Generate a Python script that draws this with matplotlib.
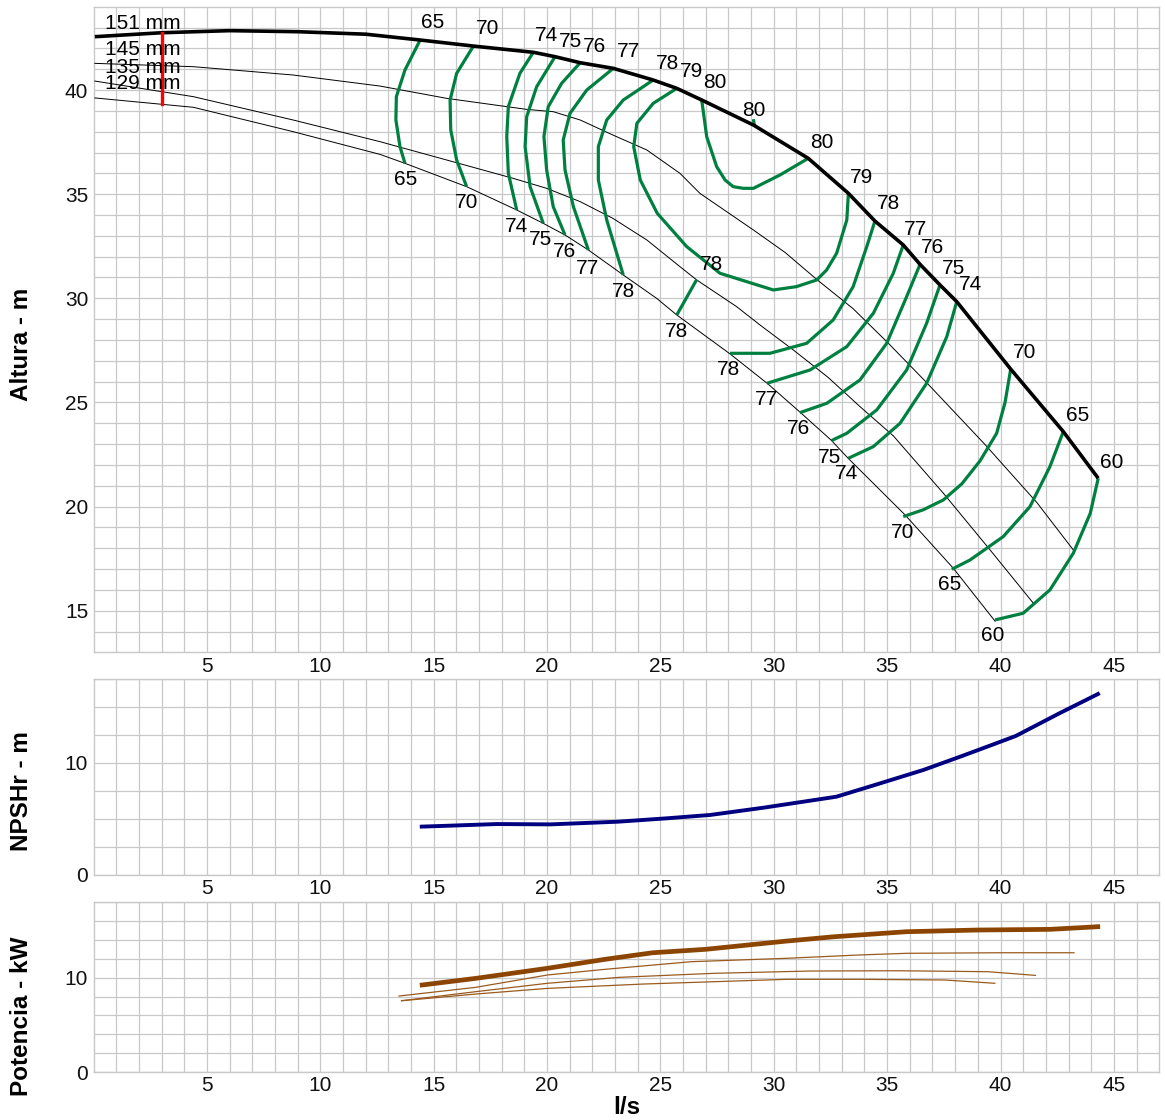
import matplotlib
matplotlib.use("Agg")
import matplotlib.pyplot as plt
import numpy as np

plt.rcParams['font.family'] = ['Liberation Sans', 'DejaVu Sans']

# ---------------- data ----------------
# Head curves (Q l/s, H m)
q151 = [0.05, 3, 6, 9, 12, 14.4, 16.75, 19.4, 20.35, 21.46, 22.92, 24.68, 25.72, 26.82, 29.1, 31.52,
        33.29, 34.46, 35.71, 36.45, 37.33, 38.07, 40.45, 42.77, 44.31]
h151 = [42.56, 42.75, 42.85, 42.8, 42.68, 42.4, 42.11, 41.81, 41.6, 41.31, 41.04, 40.48, 40.08, 39.52, 38.32, 36.72,
        35.04, 33.71, 32.56, 31.63, 30.64, 29.84, 26.6, 23.6, 21.36]
q145 = [0.05, 4.4, 8.8, 12.63, 15.57, 19.1, 20.27, 21.46, 22.9, 24.4, 25.86, 26.74, 29.1, 30.5, 31.9, 33.5,
        35.0, 36.7, 38.0, 39.3, 41.6, 43.21]
h145 = [41.28, 41.12, 40.72, 40.19, 39.6, 39.07, 38.96, 38.56, 37.84, 37.12, 36.0, 35.04, 33.28, 32.2, 30.9, 29.5,
        27.9, 26.0, 24.5, 23.0, 20.2, 17.92]
q135 = [0.05, 4.4, 8.8, 12.63, 15.57, 18.5, 19.98, 21.46, 22.9, 24.4, 25.86, 26.6, 28.36, 29.39, 30.86, 32.4,
        33.8, 35.27, 37.48, 39.54, 41.45]
h135 = [40.43, 39.68, 38.56, 37.52, 36.64, 35.76, 35.28, 34.64, 33.84, 32.8, 31.52, 30.88, 29.6, 28.72, 27.52, 26.2,
        24.8, 23.4, 20.64, 17.92, 15.36]
q129 = [0.05, 4.4, 8.8, 12.63, 13.73, 16.45, 18.66, 19.83, 20.79, 21.82, 23.36, 24.83, 25.72, 28.07, 29.74, 31.15,
        32.52, 33.27, 35.79, 37.91, 39.76]
h129 = [39.62, 39.17, 38.0, 36.91, 36.48, 35.36, 34.24, 33.6, 33.04, 32.32, 31.12, 30.0, 29.2, 27.33, 25.89, 24.54,
        23.2, 22.33, 19.6, 17.05, 14.5]
diam_labels = ["151 mm", "145 mm", "135 mm", "129 mm"]
diam_label_y = [43.17, 41.94, 41.1, 40.29]
q_min = 3.0

# Iso-efficiency lines (Q list, H list)
iso_q = {
    "65": [14.4, 13.73, 13.35, 13.33, 13.51, 13.73],
    "70": [16.75, 16.01, 15.72, 15.75, 16.01, 16.45],
    "74": [19.39, 18.8, 18.29, 18.22, 18.29, 18.66],
    "75": [20.35, 19.54, 19.1, 19.03, 19.25, 19.83],
    "76": [21.46, 20.64, 20.05, 19.86, 19.98, 20.27, 20.79],
    "77": [22.92, 21.75, 21.01, 20.71, 20.79, 21.16, 21.82],
    "78a": [24.68, 23.36, 22.63, 22.26, 22.26, 22.63, 23.36],
    "78b": [26.6, 25.72],
    "78c": [34.46, 34.1, 33.5, 32.62, 31.45, 29.83, 28.07],
    "79": [25.72, 24.68, 23.96, 23.82, 24.11, 24.86, 26.16, 27.63, 29.98, 31.0, 31.89, 32.33, 32.77, 33.22, 33.29],
    "80": [26.82, 27.04, 27.48, 27.85, 28.21, 28.65, 29.1, 30.27, 31.52],
    "80t": [29.1, 29.15],
    "77r": [35.71, 35.27, 34.39, 33.22, 31.6, 29.7],
    "76r": [36.45, 35.86, 34.98, 33.8, 32.34, 31.15],
    "75r": [37.33, 36.74, 35.86, 34.54, 33.22, 32.55],
    "74r": [38.07, 37.63, 36.74, 35.57, 34.39, 33.29],
    "70r": [40.45, 40.2, 39.83, 39.1, 38.3, 37.48, 36.6, 35.71],
    "65r": [42.77, 42.18, 41.3, 40.12, 38.66, 37.85],
    "60": [44.31, 43.96, 43.21, 42.18, 41.0, 39.76],
}
iso_h = {
    "65": [42.4, 40.96, 39.68, 38.56, 37.28, 36.48],
    "70": [42.11, 40.8, 39.52, 38.08, 36.64, 35.36],
    "74": [41.81, 40.8, 39.2, 37.76, 36.0, 34.24],
    "75": [41.6, 40.16, 38.72, 37.28, 35.36, 33.6],
    "76": [41.31, 40.32, 39.2, 37.76, 36.16, 34.4, 33.04],
    "77": [41.04, 40.0, 38.88, 37.6, 36.16, 34.4, 32.32],
    "78a": [40.48, 39.52, 38.56, 37.28, 35.68, 33.76, 31.12],
    "78b": [30.9, 29.2],
    "78c": [33.71, 32.48, 30.56, 28.96, 27.84, 27.36, 27.36],
    "79": [40.08, 39.36, 38.4, 37.28, 35.68, 34.08, 32.48, 31.2, 30.4, 30.56, 30.88, 31.36, 32.16, 33.76, 35.04],
    "80": [39.52, 37.76, 36.32, 35.68, 35.36, 35.28, 35.28, 35.92, 36.72],
    "80t": [38.6, 38.25],
    "77r": [32.56, 31.2, 29.28, 27.68, 26.56, 25.92],
    "76r": [31.63, 30.08, 27.84, 26.08, 24.96, 24.51],
    "75r": [30.64, 28.8, 26.56, 24.64, 23.52, 23.17],
    "74r": [29.84, 28.16, 25.92, 24.0, 22.88, 22.32],
    "70r": [26.6, 25.0, 23.52, 22.2, 21.1, 20.32, 19.85, 19.52],
    "65r": [23.6, 21.92, 20.0, 18.56, 17.44, 16.99],
    "60": [21.36, 19.68, 17.76, 16.0, 14.88, 14.56],
}
# iso labels: text, Q, H
lab_txt = ["65", "70", "74", "75", "76", "77", "78", "79", "80", "80", "80", "79", "78", "77", "76", "75", "74",
           "70", "65", "60",
           "65", "70", "74", "75", "76", "77", "78", "78", "78", "78", "77", "76", "75", "74", "70", "65", "60"]
lab_q = [14.97, 17.39, 19.99, 21.01, 22.11, 23.61, 25.33, 26.35, 27.41, 29.13, 32.13, 33.85, 35.08, 36.27, 37.02,
         37.91, 38.66, 41.04, 43.4, 44.92,
         13.78, 16.43, 18.63, 19.73, 20.75, 21.8, 23.35, 27.23, 25.69, 28.02, 29.66, 31.07, 32.44, 33.19, 35.7,
         37.77, 39.67]
lab_h = [43.26, 42.93, 42.64, 42.35, 42.11, 41.87, 41.25, 40.91, 40.34, 39.04, 37.5, 35.82, 34.53, 33.28, 32.46,
         31.45, 30.64, 27.42, 24.35, 22.14,
         35.68, 34.62, 33.47, 32.8, 32.27, 31.45, 30.35, 31.6, 28.43, 26.56, 25.12, 23.77, 22.38, 21.57, 18.78,
         16.24, 13.79]

# NPSHr
npsh_q = [14.47, 15.65, 17.79, 20.14, 23.13, 25.27, 27.19, 29.55, 32.76, 34.46, 36.6, 38.31, 39.6, 40.67, 42.59, 44.3]
npsh_h = [4.32, 4.4, 4.55, 4.52, 4.76, 5.06, 5.36, 6.01, 6.99, 8.04, 9.38, 10.63, 11.6, 12.41, 14.43, 16.16]

# Power
p151_q = [14.49, 16.85, 20.02, 22.55, 24.66, 26.98, 30.57, 32.68, 35.85, 39.01, 42.18, 44.29]
p151 = [9.23, 9.93, 11.0, 11.95, 12.65, 13.01, 13.89, 14.35, 14.88, 15.06, 15.13, 15.41]
p145_q = [13.47, 16.85, 20.02, 22.55, 26.35, 30.57, 33.74, 35.85, 40.07, 43.24]
p145 = [8.06, 8.98, 10.29, 10.89, 11.7, 12.06, 12.41, 12.59, 12.65, 12.65]
p135_q = [13.58, 16.85, 20.02, 23.18, 27.4, 31.62, 35.42, 39.43, 41.54]
p135 = [7.56, 8.52, 9.41, 10.04, 10.47, 10.71, 10.74, 10.64, 10.25]
p129_q = [13.58, 16.85, 20.02, 24.24, 27.4, 30.57, 33.74, 37.53, 39.75]
p129 = [7.56, 8.27, 8.87, 9.33, 9.58, 9.83, 9.83, 9.76, 9.41]

xticks = [5, 10, 15, 20, 25, 30, 35, 40, 45]

# ---------------- figure ----------------
W, H = 1165, 1120
fig = plt.figure(figsize=(W / 100, H / 100), dpi=100)

def ax_px(left, top, right, bottom):
    return fig.add_axes([left / W, 1 - bottom / H, (right - left) / W, (bottom - top) / H])

GRID = '#c8c8c8'
ax1 = ax_px(93.7, 6.7, 1159.2, 652.4)
ax2 = ax_px(93.7, 679, 1159.2, 875)
ax3 = ax_px(93.7, 902.3, 1159.2, 1072)

def style(ax, ylim, yticks, yminor):
    ax.set_xlim(0, 47)
    ax.set_ylim(*ylim)
    ax.set_xticks(xticks)
    ax.set_xticks(np.arange(1, 47, 1), minor=True)
    ax.set_yticks(yticks)
    ax.set_yticks(yminor, minor=True)
    ax.grid(True, which='both', color=GRID, lw=0.9)
    ax.set_axisbelow(True)
    for s in ax.spines.values():
        s.set_color(GRID)
        s.set_linewidth(1.0)
    ax.tick_params(which='both', length=0, labelsize=15, colors='#111111')
    ax.tick_params(axis='y', pad=4)
    ax.tick_params(axis='x', pad=3)

style(ax1, (13, 44), [15, 20, 25, 30, 35, 40], np.arange(14, 44, 1))
style(ax2, (0, 17.5), [0, 10], np.arange(0, 17.6, 2.5))
style(ax3, (0, 18), [0, 10], np.arange(0, 18.1, 2))

# head curves
ax1.plot(q151, h151, color='black', lw=2.6, solid_capstyle='butt', solid_joinstyle='round', zorder=4)
for q, h in [(q145, h145), (q135, h135), (q129, h129)]:
    ax1.plot(q, h, color='black', lw=0.7, solid_joinstyle='round', zorder=3)

# iso efficiency
for k in iso_q:
    ax1.plot(iso_q[k], iso_h[k], color='#008040', lw=2.3, solid_capstyle='butt',
             solid_joinstyle='round', zorder=3.5)

# minimum flow line
ytop = np.interp(q_min, q151, h151)
ybot = np.interp(q_min, q129, h129)
ax1.plot([q_min, q_min], [ybot, ytop], color='#ff0000', lw=2.4, zorder=5)

for t, y in zip(diam_labels, diam_label_y):
    ax1.text(0.5, y, t, fontsize=15, ha='left', va='center', color='black', zorder=6)

for t, q, h in zip(lab_txt, lab_q, lab_h):
    ax1.text(q, h, t, fontsize=15, ha='center', va='center', color='black', zorder=6)

# NPSH
ax2.plot(npsh_q, npsh_h, color='#000080', lw=2.8, solid_joinstyle='round')

# Power
ax3.plot(p151_q, p151, color='#8b4500', lw=3.4, solid_joinstyle='round')
for q, p in [(p145_q, p145), (p135_q, p135), (p129_q, p129)]:
    ax3.plot(q, p, color='#9a5a1e', lw=0.9)

# labels
def ftext(x, y, s, **kw):
    fig.text(x / W, 1 - y / H, s, ha='center', va='center', fontweight='bold', **kw)

ftext(22, 344, "Altura - m", rotation=90, fontsize=17.5)
ftext(22, 791, "NPSHr - m", rotation=90, fontsize=17.5)
ftext(22, 1016, "Potencia - kW", rotation=90, fontsize=17.5)
ftext(627, 1108, "l/s", fontsize=17.5)

fig.savefig("out.png", dpi=100)
